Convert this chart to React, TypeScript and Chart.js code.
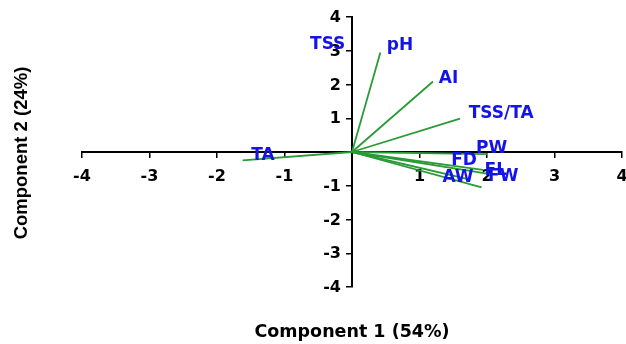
import React, { useEffect, useRef } from 'react';
import { Chart, registerables } from 'chart.js';

Chart.register(...registerables);

// Loading vectors (Component 1, Component 2)
const variables = ['pH', 'AI', 'TSS/TA', 'PW', 'FD', 'FL', 'AW', 'FW', 'TA'];
const loadingX = [0.42, 1.2, 1.6, 2.0, 1.94, 2.07, 1.75, 1.92, -1.62];
const loadingY = [2.95, 2.09, 0.99, -0.06, -0.53, -0.66, -0.82, -1.05, -0.25];

// Variable name annotations (data coordinates)
const labelNames = ['TSS', 'pH', 'AI', 'TSS/TA', 'PW', 'FD', 'FL', 'AW', 'FW', 'TA'];
const labelX = [-0.36, 0.71, 1.43, 2.21, 2.07, 1.66, 2.13, 1.57, 2.24, -1.32];
const labelY = [3.18, 3.16, 2.19, 1.13, 0.1, -0.25, -0.56, -0.75, -0.72, -0.1];

const axisMin = -4;
const axisMax = 4;
const xTitle = 'Component 1 (54%)';
const yTitle = 'Component 2 (24%)';

const GREEN = '#2a9a37';
const BLUE = '#1414e6';
const TICK_FONT = 'bold 16px "DejaVu Sans"';

const fmt = (v: number) => (v === 0 ? null : String(v));

const annotPlugin = {
  id: 'annot',
  afterDatasetsDraw(chart: any) {
    const { ctx, chartArea } = chart;
    const xs = chart.scales.x;
    const ys = chart.scales.y;
    ctx.save();
    // y-axis tick labels, from the y scale's own ticks
    ctx.fillStyle = '#000';
    ctx.font = TICK_FONT;
    ctx.textAlign = 'right';
    ctx.textBaseline = 'middle';
    const axisX = xs.getPixelForValue(0);
    ys.ticks.forEach((t: any) => {
      const s = fmt(t.value);
      if (s) ctx.fillText(s, axisX - 11, ys.getPixelForValue(t.value) + 1);
    });
    // variable labels
    ctx.fillStyle = BLUE;
    ctx.font = 'bold 17px "DejaVu Sans"';
    ctx.textAlign = 'center';
    labelNames.forEach((n, i) => {
      ctx.fillText(n, xs.getPixelForValue(labelX[i]), ys.getPixelForValue(labelY[i]));
    });
    // axis titles
    ctx.fillStyle = '#000';
    ctx.font = 'bold 17.5px "DejaVu Sans"';
    ctx.fillText(xTitle, (chartArea.left + chartArea.right) / 2, chartArea.bottom + 45);
    ctx.translate(22, (chartArea.top + chartArea.bottom) / 2 + 1);
    ctx.rotate(-Math.PI / 2);
    ctx.font = 'bold 18.5px "Liberation Sans"';
    ctx.fillText(yTitle, 0, 0);
    ctx.restore();
  },
};

export default function App() {
  const ref = useRef<HTMLCanvasElement | null>(null);
  useEffect(() => {
    if (!ref.current) return;
    const datasets = variables.map((v, i) => ({
      label: v,
      data: [
        { x: 0, y: 0 },
        { x: loadingX[i], y: loadingY[i] },
      ],
      showLine: true,
      borderColor: GREEN,
      backgroundColor: GREEN,
      borderWidth: 1.8,
      pointRadius: 0,
      pointHoverRadius: 0,
    }));
    const tickFont = { family: 'DejaVu Sans', size: 16, weight: 'bold' as const };
    const chart = new Chart(ref.current, {
      type: 'scatter',
      data: { datasets },
      options: {
        animation: false,
        responsive: false,
        layout: { padding: { left: 82, right: 4, top: 17, bottom: 57 } },
        plugins: { legend: { display: false }, tooltip: { enabled: false } },
        scales: {
          x: {
            type: 'linear',
            position: { y: 0 } as any,
            min: axisMin,
            max: axisMax,
            afterFit: (s: any) => {
              s.height = 0;
              s.paddingLeft = 0;
              s.paddingRight = 0;
            },
            border: { display: true, color: '#000', width: 2 },
            grid: { drawOnChartArea: false, drawTicks: true, tickLength: 5, color: '#000', lineWidth: 1.5 },
            ticks: {
              stepSize: 1,
              color: '#000',
              font: tickFont,
              padding: 10,
              callback: (v: any) => fmt(Number(v)),
            },
          },
          y: {
            type: 'linear',
            position: { x: 0 } as any,
            min: axisMin,
            max: axisMax,
            afterFit: (s: any) => {
              s.width = 0;
              s.paddingTop = 0;
              s.paddingBottom = 0;
            },
            border: { display: true, color: '#000', width: 2 },
            grid: { drawOnChartArea: false, drawTicks: true, tickLength: 5, color: '#000', lineWidth: 1.5 },
            ticks: {
              stepSize: 1,
              display: false,
              callback: (v: any) => fmt(Number(v)),
            },
          },
        },
      },
      plugins: [annotPlugin],
    });
    return () => chart.destroy();
  }, []);
  return (
    <div style={{ position: 'fixed', left: 0, top: 0, width: 626, height: 344, background: '#fff' }}>
      <canvas ref={ref} width={626} height={344} />
    </div>
  );
}
